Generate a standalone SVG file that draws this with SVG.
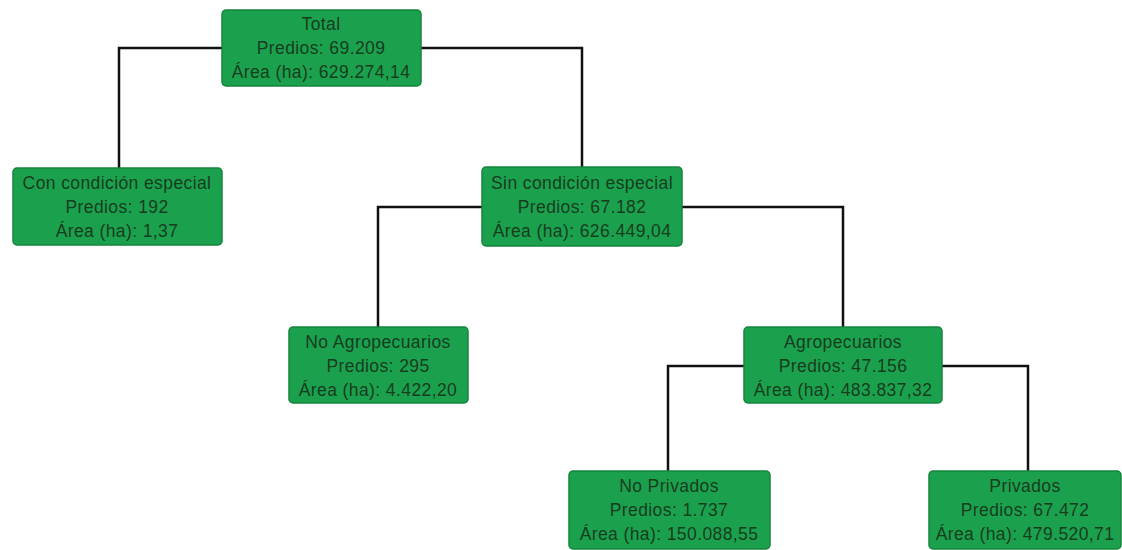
<svg xmlns="http://www.w3.org/2000/svg" width="1122" height="550" viewBox="0 0 1122 550">
<style>
.box{fill:#1ba14d;stroke:#14853d;stroke-width:1.5}
.t{font-family:"Liberation Sans",Arial,sans-serif;font-size:17.5px;letter-spacing:0.4px;fill:#173d1f;text-anchor:middle}
.c{fill:none;stroke:#111;stroke-width:2.5}
</style>
<rect width="1122" height="550" fill="#ffffff"/>
<g id="connectors">
<path class="c" d="M222 48 H119 V168"/>
<path class="c" d="M421 48 H582 V167"/>
<path class="c" d="M482 207 H378 V327"/>
<path class="c" d="M682 207 H843 V327"/>
<path class="c" d="M744 366 H668 V471"/>
<path class="c" d="M942 366 H1028 V471"/>
</g>
<g id="total">
<rect class="box" x="222" y="10" width="199" height="76" rx="4"/>
<text class="t" x="321" y="30">Total</text>
<text class="t" x="321" y="54">Predios: 69.209</text>
<text class="t" x="321" y="78">Área (ha): 629.274,14</text>
</g>
<g id="con">
<rect class="box" x="13" y="168" width="209" height="77" rx="4"/>
<text class="t" x="117" y="189">Con condición especial</text>
<text class="t" x="117" y="213">Predios: 192</text>
<text class="t" x="117" y="237">Área (ha): 1,37</text>
</g>
<g id="sin">
<rect class="box" x="482" y="167" width="200" height="79" rx="4"/>
<text class="t" x="582" y="189">Sin condición especial</text>
<text class="t" x="582" y="213">Predios: 67.182</text>
<text class="t" x="582" y="237">Área (ha): 626.449,04</text>
</g>
<g id="noagro">
<rect class="box" x="289" y="327" width="179" height="76" rx="4"/>
<text class="t" x="378" y="348">No Agropecuarios</text>
<text class="t" x="378" y="372">Predios: 295</text>
<text class="t" x="378" y="396">Área (ha): 4.422,20</text>
</g>
<g id="agro">
<rect class="box" x="744" y="327" width="198" height="76" rx="4"/>
<text class="t" x="843" y="348">Agropecuarios</text>
<text class="t" x="843" y="372">Predios: 47.156</text>
<text class="t" x="843" y="396">Área (ha): 483.837,32</text>
</g>
<g id="noprivados">
<rect class="box" x="569" y="471" width="201" height="78" rx="4"/>
<text class="t" x="669" y="492">No Privados</text>
<text class="t" x="669" y="516">Predios: 1.737</text>
<text class="t" x="669" y="540">Área (ha): 150.088,55</text>
</g>
<g id="privados">
<rect class="box" x="929" y="471" width="192" height="78" rx="4"/>
<text class="t" x="1025" y="492">Privados</text>
<text class="t" x="1025" y="516">Predios: 67.472</text>
<text class="t" x="1025" y="540">Área (ha): 479.520,71</text>
</g>
</svg>
